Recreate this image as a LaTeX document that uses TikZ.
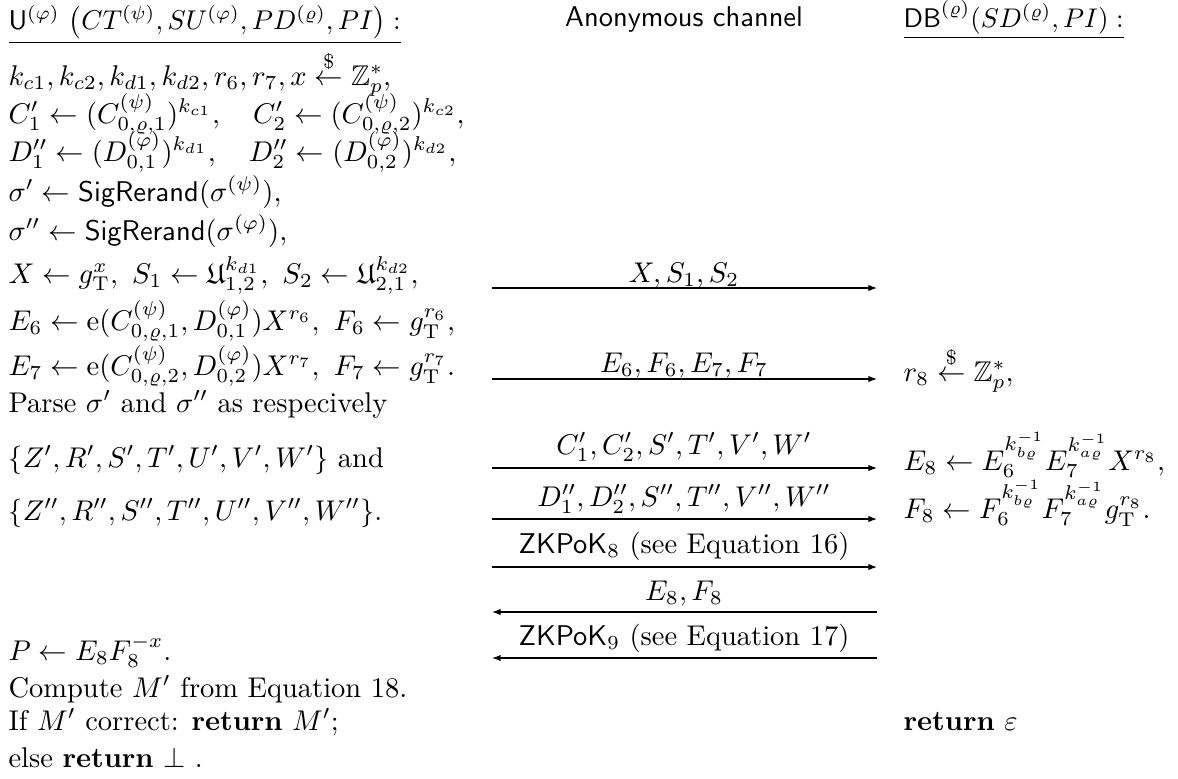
\documentclass[tikz,border=0pt]{standalone}
\usepackage{amsmath,amssymb}
\usetikzlibrary{arrows.meta}
\begin{document}
\begin{tikzpicture}[x=0.3509pt,y=-0.3509pt,
  txt/.style={anchor=base west,inner sep=0pt},
  lbl/.style={anchor=base,inner sep=0pt},
  msg/.style={line width=0.4pt,-{Latex[length=3pt,width=2.2pt]}}]
\useasboundingbox (0,0) rectangle (1178,778);
% headers
\node[txt] (hU) at (8,29) {\scalebox{0.952}{$\underline{\mathsf{U}^{(\varphi)}\ \bigl(CT^{(\psi)}, SU^{(\varphi)}, PD^{(\varrho)}, PI\bigr):}$}};
\node[lbl] (hC) at (684,26) {\textsf{Anonymous channel}};
\node[txt] (hD) at (903,27) {\scalebox{0.945}{$\underline{\mathsf{DB}^{(\varrho)}(SD^{(\varrho)}, PI):}$}};
% left column
\node[txt] (l1) at (8,85) {$k_{c1}, k_{c2}, k_{d1}, k_{d2}, r_6, r_7, x \overset{\$}{\leftarrow} \mathbb{Z}_p^*,$};
\node[txt] (l2) at (8,123) {$C_1' \leftarrow (C_{0,\varrho,1}^{(\psi)})^{k_{c1}}, \quad C_2' \leftarrow (C_{0,\varrho,2}^{(\psi)})^{k_{c2}},$};
\node[txt] (l3) at (8,161) {$D_1'' \leftarrow (D_{0,1}^{(\varphi)})^{k_{d1}}, \quad D_2'' \leftarrow (D_{0,2}^{(\varphi)})^{k_{d2}},$};
\node[txt] (l4) at (8,201) {$\sigma' \leftarrow \mathsf{SigRerand}(\sigma^{(\psi)}),$};
\node[txt] (l5) at (8,240) {$\sigma'' \leftarrow \mathsf{SigRerand}(\sigma^{(\varphi)}),$};
\node[txt] (l6) at (8,283) {$X \leftarrow g_{\mathrm{T}}^{x},\ S_1 \leftarrow \mathfrak{U}_{1,2}^{k_{d1}},\ S_2 \leftarrow \mathfrak{U}_{2,1}^{k_{d2}},$};
\node[txt] (l7) at (8,330) {$E_6 \leftarrow \mathrm{e}(C_{0,\varrho,1}^{(\psi)}, D_{0,1}^{(\varphi)})X^{r_6},\ F_6 \leftarrow g_{\mathrm{T}}^{r_6},$};
\node[txt] (l8) at (8,375) {$E_7 \leftarrow \mathrm{e}(C_{0,\varrho,2}^{(\psi)}, D_{0,2}^{(\varphi)})X^{r_7},\ F_7 \leftarrow g_{\mathrm{T}}^{r_7}.$};
\node[txt] (l9) at (8,412) {Parse $\sigma'$ and $\sigma''$ as respecively};
\node[txt] (l10) at (8,467) {$\{Z', R', S', T', U', V', W'\}$ and};
\node[txt] (l11) at (8,520) {$\{Z'', R'', S'', T'', U'', V'', W''\}.$};
\node[txt] (l12) at (8,660) {$P \leftarrow E_8 F_8^{-x}.$};
\node[txt] (l13) at (8,697) {Compute $M'$ from Equation 18.};
\node[txt] (l14) at (8,730) {If $M'$ correct: \textbf{return} $M'$;};
\node[txt] (l15) at (8,767) {else \textbf{return} $\perp$ .};
% right column
\node[txt] (r1) at (903,381) {$r_8 \overset{\$}{\leftarrow} \mathbb{Z}_p^*,$};
\node[txt] (r2) at (903,470) {$E_8 \leftarrow E_6^{k_{b\varrho}^{-1}} E_7^{k_{a\varrho}^{-1}} X^{r_8},$};
\node[txt] (r3) at (903,518) {$F_8 \leftarrow F_6^{k_{b\varrho}^{-1}} F_7^{k_{a\varrho}^{-1}} g_{\mathrm{T}}^{r_8}.$};
\node[txt] (r4) at (903,730) {\textbf{return} $\varepsilon$};
% message end points
\foreach \i/\y in {1/288,2/379,3/468,4/519,5/567,6/612,7/658}{
  \coordinate (mL\i) at (492,\y);
  \coordinate (mR\i) at (877,\y);
}
\draw[msg] (mL1) -- (mR1);
\draw[msg] (mL2) -- (mR2);
\draw[msg] (mL3) -- (mR3);
\draw[msg] (mL4) -- (mR4);
\draw[msg] (mL5) -- (mR5);
\draw[msg] (mR6) -- (mL6);
\draw[msg] (mR7) -- (mL7);
% message labels
\node[lbl] (m1) at (684,282) {$X, S_1, S_2$};
\node[lbl] (m2) at (684,372) {$E_6, F_6, E_7, F_7$};
\node[lbl] (m3) at (684,454) {$C_1', C_2', S', T', V', W'$};
\node[lbl] (m4) at (684,506) {$D_1'', D_2'', S'', T'', V'', W''$};
\node[lbl] (m5) at (684,553) {$\mathsf{ZKPoK}_8$ (see Equation 16)};
\node[lbl] (m6) at (684,600) {$E_8, F_8$};
\node[lbl] (m7) at (684,645) {$\mathsf{ZKPoK}_9$ (see Equation 17)};
\end{tikzpicture}
\end{document}
